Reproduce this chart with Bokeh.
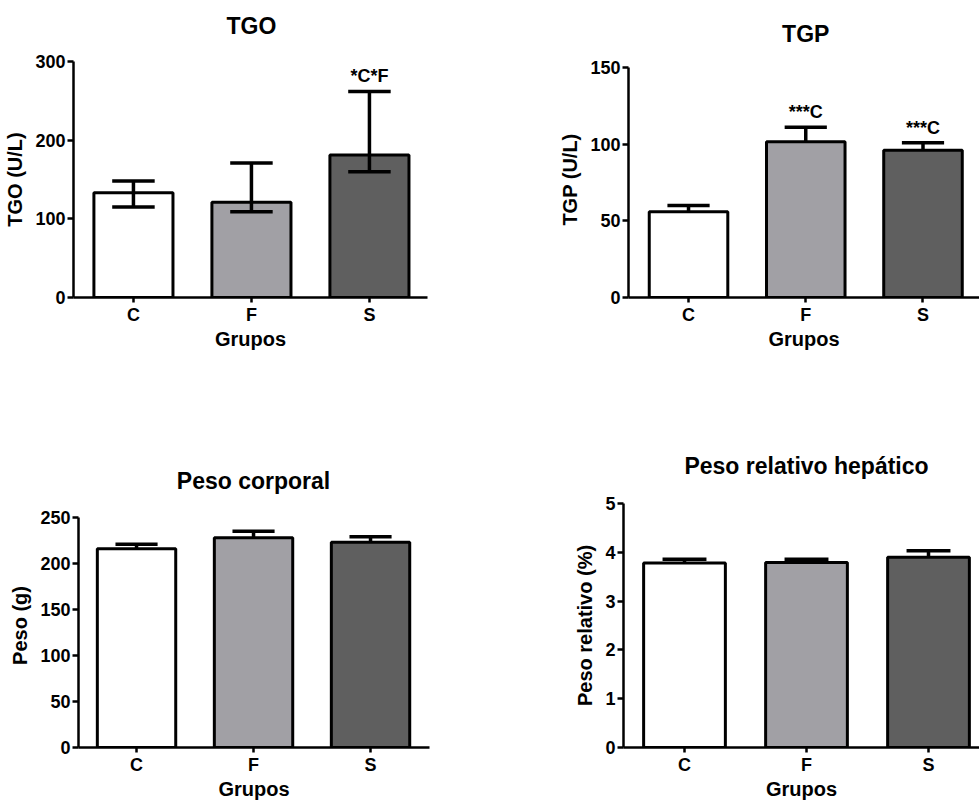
from bokeh.plotting import figure
from bokeh.models import Range1d, FixedTicker
from bokeh.layouts import column, row
from bokeh.embed import file_html
from bokeh.resources import INLINE
from bokeh.core.properties import value

# ---------------- data ----------------
groups = ["C", "F", "S"]
bar_colors = ["#FFFFFF", "#A1A0A5", "#5F5F5F"]

tgo_mean = [133, 121, 181]
tgo_upper = [148, 171, 262]
tgo_lower = [115, 109, 160]
tgo_marks = ["", "", "*C*F"]
tgo_ticks = [0, 100, 200, 300]

tgp_mean = [56, 101.5, 96]
tgp_upper = [60, 111, 101]
tgp_marks = ["", "***C", "***C"]
tgp_ticks = [0, 50, 100, 150]

peso_mean = [216, 228, 223]
peso_upper = [221, 235, 229]
peso_ticks = [0, 50, 100, 150, 200, 250]

rel_mean = [3.78, 3.79, 3.90]
rel_upper = [3.86, 3.86, 4.03]
rel_ticks = [0, 1, 2, 3, 4, 5]

FONT = "Liberation Sans"
BAR_W = 0.67
CAP = 0.18


def title_fig(text, w, th, bl, br, xstart, xend, title_px):
    # a small axis-less strip that carries the panel title
    t = figure(width=w, height=th, output_backend="svg", toolbar_location=None,
               x_range=Range1d(xstart, xend), y_range=Range1d(0, th),
               x_axis_location=None, y_axis_location=None,
               min_border_left=bl, min_border_right=br, min_border_top=0, min_border_bottom=0)
    t.grid.visible = False
    t.outline_line_color = None
    t.text(x=[len(groups) // 2], y=[th - title_px], text=[text],
           text_align="center", text_baseline="middle", text_font=value(FONT),
           text_font_size="23px", text_font_style="bold", text_color="black")
    return t


def panel(title, ylabel, means, uppers, lowers, marks, yticks,
          w, h, th, bl, br, bt, bb, xstart, xend, top_tick_px, title_px):
    xs = list(range(len(groups)))
    mh = h - th
    frame_h = mh - bt - bb
    zero_px = mh - bb
    y_end = yticks[-1] * frame_h / (zero_px - (top_tick_px - th))
    p = figure(width=w, height=mh, output_backend="svg", toolbar_location=None,
               x_range=Range1d(xstart, xend), y_range=Range1d(yticks[0], y_end),
               min_border_left=bl, min_border_right=br,
               min_border_top=bt, min_border_bottom=bb)
    p.grid.visible = False
    p.outline_line_color = None
    p.background_fill_color = "white"
    p.border_fill_color = "white"

    for ax in (p.xaxis[0], p.yaxis[0]):
        ax.axis_line_width = 2.5
        ax.axis_line_color = "black"
        ax.major_tick_line_width = 2.5
        ax.major_tick_line_color = "black"
        ax.major_tick_in = 0
        ax.minor_tick_line_color = None
        ax.major_label_text_font = FONT
        ax.major_label_text_font_size = "18px"
        ax.major_label_text_font_style = "bold"
        ax.major_label_text_color = "black"
        ax.axis_label_text_font = FONT
        ax.axis_label_text_font_size = "20px"
        ax.axis_label_text_font_style = "bold"
        ax.axis_label_text_color = "black"

    p.yaxis.ticker = FixedTicker(ticks=yticks)
    p.yaxis.bounds = (yticks[0], yticks[-1])
    p.yaxis.major_tick_out = 6
    p.yaxis.major_label_standoff = 2
    p.yaxis.axis_label = ylabel
    p.yaxis.axis_label_standoff = 6

    p.xaxis.ticker = FixedTicker(ticks=xs)
    p.xaxis.major_label_overrides = {i: g for i, g in enumerate(groups)}
    p.xaxis.major_tick_out = 5
    p.xaxis.major_label_standoff = 2
    p.xaxis.axis_label = "Grupos"
    p.xaxis.axis_label_standoff = 0

    p.vbar(x=xs, top=means, bottom=0, width=BAR_W, fill_color=bar_colors,
           line_color="black", line_width=3)

    lo = lowers if lowers is not None else means
    p.segment(x0=xs, y0=lo, x1=xs, y1=uppers, line_color="black", line_width=3.5)
    p.segment(x0=[x - CAP for x in xs], y0=uppers, x1=[x + CAP for x in xs], y1=uppers,
              line_color="black", line_width=3.5)
    if lowers is not None:
        p.segment(x0=[x - CAP for x in xs], y0=lowers, x1=[x + CAP for x in xs], y1=lowers,
                  line_color="black", line_width=3.5)

    if marks is not None:
        p.text(x=xs, y=uppers, text=marks, text_align="center", text_baseline="bottom",
               y_offset=-5, text_font=value(FONT), text_font_style="bold",
               text_font_size="18px", text_color="black")

    t = title_fig(title, w, th, bl, br, xstart, xend, title_px)
    return column(t, p)


c1 = panel("TGO", "TGO (U/L)", tgo_mean, tgo_upper, tgo_lower, tgo_marks, tgo_ticks,
           540, 400, 49, 73, 113, 12, 103, -0.508, 2.492, top_tick_px=61, title_px=25)
c2 = panel("TGP", "TGP (U/L)", tgp_mean, tgp_upper, None, tgp_marks, tgp_ticks,
           439, 400, 49, 88, 0, 12, 103, -0.512, 2.482, top_tick_px=67, title_px=33)
c3 = panel("Peso corporal", "Peso (g)", peso_mean, peso_upper, None, None, peso_ticks,
           540, 402, 94, 78, 111, 9, 54, -0.496, 2.504, top_tick_px=117, title_px=80)
c4 = panel("Peso relativo hepático", "Peso relativo (%)", rel_mean, rel_upper, None, None,
           rel_ticks, 439, 402, 94, 83, 0, 9, 54, -0.5, 2.418, top_tick_px=103, title_px=65)

layout = column(row(c1, c2), row(c3, c4))
open("out.html", "w").write(file_html(layout, INLINE))
